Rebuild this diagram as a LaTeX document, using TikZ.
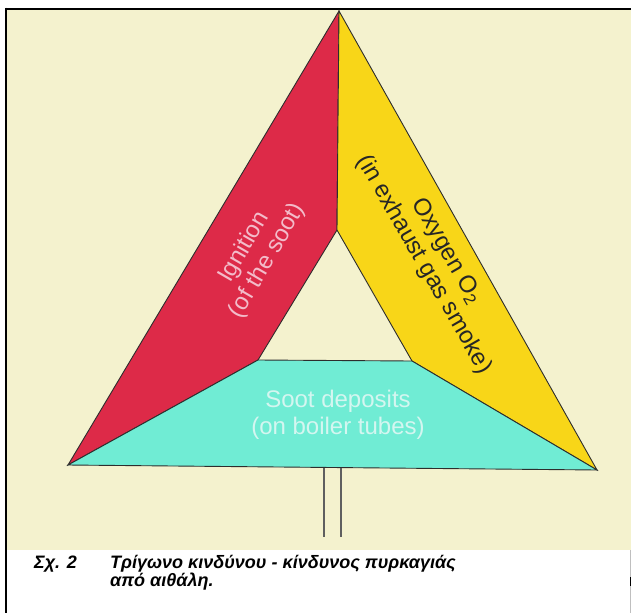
\documentclass[tikz,border=0pt]{standalone}
\usepackage{fontspec}
\setmainfont{Liberation Sans}
\definecolor{cream}{RGB}{244,242,206}
\definecolor{firered}{RGB}{221,42,72}
\definecolor{oxyellow}{RGB}{248,214,24}
\definecolor{sootcyan}{RGB}{112,236,212}
\definecolor{edgegray}{RGB}{45,45,45}
\definecolor{igntext}{RGB}{243,188,202}
\definecolor{soottext}{RGB}{212,246,240}
\begin{document}
\begin{tikzpicture}[x=1pt,y=-1pt,
  piece/.style={draw=edgegray, line width=0.9pt, line join=miter},
  lbl/.style={font=\fontsize{24}{26.5}\selectfont, align=center, inner sep=0pt},
  captext/.style={font=\fontsize{18}{20}\selectfont\bfseries\itshape, anchor=base west, inner sep=0pt},
  standline/.style={draw={rgb,255:red,95;green,95;blue,95}, line width=1.3pt}]
\useasboundingbox (0,0) rectangle (631,613);
\fill[white] (0,0) rectangle (631,613);
\fill[cream] (6,8) rectangle (631,550);
\draw[black, line width=2pt] (5,8.5) -- (631,8.5);
\draw[black, line width=2pt] (6,7.5) -- (6,613);
\draw[gray!50, line width=0.8pt] (630.5,550) -- (630.5,613);
\draw[black, line width=1pt] (630.5,577) -- (630.5,586);
% vertices
\coordinate (A) at (339,11);
\coordinate (L) at (68,465);
\coordinate (R) at (597,470);
\coordinate (D) at (337,230);
\coordinate (IL) at (258,360);
\coordinate (IR) at (412,361);
% pieces
\filldraw[piece, fill=firered] (A) -- (D) -- (IL) -- (L) -- cycle;
\filldraw[piece, fill=oxyellow] (A) -- (R) -- (IR) -- (D) -- cycle;
\filldraw[piece, fill=sootcyan] (L) -- (IL) -- (IR) -- (R) -- cycle;
% stand
\coordinate (s1a) at (324,468);
\coordinate (s1b) at (324,537);
\coordinate (s2a) at (341,468);
\coordinate (s2b) at (341,537);
\draw[standline] (s1a) -- (s1b);
\draw[standline] (s2a) -- (s2b);
% labels
\node[lbl, rotate=60, text=igntext] (ign) at (256,254) {Ignition\\(of the soot)};
\node[lbl, rotate=-60, text=black!85] (oxy) at (435,258) {Oxygen O\textsubscript{2}\\(in exhaust gas smoke)};
\node[lbl, text=soottext] (soot) at (338,415) {Soot deposits\\(on boiler tubes)};
% caption
\node[captext] (fig) at (34,568) {Σχ. 2};
\node[captext] (cap1) at (110,568) {Τρίγωνο κινδύνου - κίνδυνος πυρκαγιάς};
\node[captext] (cap2) at (110,586) {από αιθάλη.};
\end{tikzpicture}
\end{document}
